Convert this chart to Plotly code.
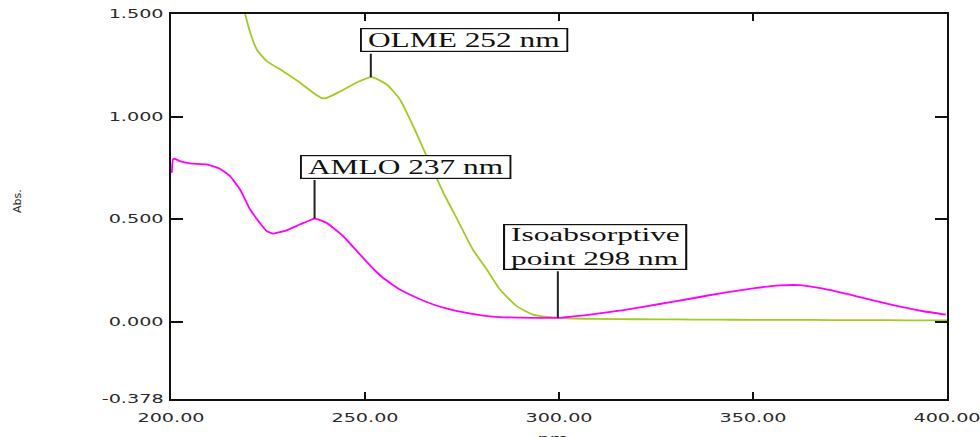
import plotly.graph_objects as go

# ---------------- data ----------------
olme_nm = [219.1, 220.4, 222.1, 224.7, 228.9, 233.2, 239.2, 243.6, 247.9, 251.7,
           255.6, 259.0, 262.5, 265.9, 270.2, 274.0, 277.8, 281.4, 284.8, 289.1,
           293.3, 297.7, 302.0, 310.0, 320.0, 330.0, 340.0, 350.0, 360.0, 370.0,
           380.0, 390.0, 400.0]
olme_abs = [1.500, 1.410, 1.327, 1.270, 1.221, 1.166, 1.088, 1.122, 1.166, 1.192,
            1.156, 1.083, 0.950, 0.806, 0.628, 0.490, 0.351, 0.254, 0.156, 0.075,
            0.034, 0.021, 0.016, 0.013, 0.011, 0.010, 0.009, 0.008, 0.008, 0.007,
            0.007, 0.006, 0.006]

amlo_nm = [200.2, 200.5, 201.0, 202.3, 204.9, 209.2, 212.6, 215.2, 217.8, 220.4,
           222.9, 224.7, 226.4, 229.8, 233.2, 237.1, 240.1, 244.4, 248.3, 250.4,
           252.5, 254.7, 257.0, 259.0, 263.3, 267.6, 271.9, 276.2, 280.5, 284.8,
           293.3, 299.4, 308.0, 316.6, 325.2, 333.8, 342.3, 350.9, 357.0, 362.1,
           368.1, 376.7, 385.3, 393.9, 399.7]
amlo_abs = [0.725, 0.790, 0.794, 0.782, 0.771, 0.766, 0.745, 0.709, 0.644, 0.546,
            0.481, 0.440, 0.429, 0.445, 0.473, 0.502, 0.481, 0.416, 0.335, 0.292,
            0.250, 0.212, 0.181, 0.156, 0.116, 0.083, 0.059, 0.042, 0.029, 0.021,
            0.018, 0.018, 0.034, 0.055, 0.083, 0.111, 0.140, 0.164, 0.176, 0.177,
            0.160, 0.123, 0.083, 0.050, 0.034]

# labelled points (position of the pointer lines) and their texts
label_texts = ["OLME 252 nm", "AMLO 237 nm", "Isoabsorptive<br>point 298 nm"]
label_nm = [251.5, 237.0, 299.7]
label_abs = [1.192, 0.502, 0.018]

x_tickvals = [200, 250, 300, 350, 400]
x_ticktext = ["200.00", "250.00", "300.00", "350.00", "400.00"]
y_tickvals = [-0.378, 0.0, 0.5, 1.0, 1.5]
y_ticktext = ["-0.378", "0.000", "0.500", "1.000", "1.500"]

# ---------------- styling ----------------
GREEN = "#A2CB24"
PINK = "#FF00FF"
box_dx = [-11, -15, -55]      # box left edge relative to pointer, px
box_dy = [25, 40, 48]         # box bottom above the point, px
box_size = [20, 20, 18]
box_stretch = [1.57, 1.57, 1.74]   # the reference picture is horizontally stretched
BOX_HPAD = 6                       # extra horizontal padding inside the boxes, px
TICK_STRETCH = 1.6

fig = go.Figure()
fig.add_trace(go.Scatter(x=olme_nm, y=olme_abs, mode="lines",
                         line=dict(color=GREEN, width=1.8, shape="spline", smoothing=0.6),
                         showlegend=False, hoverinfo="skip"))
fig.add_trace(go.Scatter(x=amlo_nm, y=amlo_abs, mode="lines",
                         line=dict(color=PINK, width=1.8, shape="spline", smoothing=0.4),
                         showlegend=False, hoverinfo="skip"))

annotations = []
for txt, xv, yv, dx, dy, fs in zip(label_texts, label_nm, label_abs, box_dx, box_dy, box_size):
    annotations.append(dict(x=xv, y=yv, xref="x", yref="y", text="", showarrow=True,
                            arrowhead=0, arrowwidth=2, arrowcolor="#222222",
                            ax=0, ay=-dy, standoff=0, startstandoff=0))
    annotations.append(dict(x=xv, y=yv, xref="x", yref="y", text=txt, showarrow=False,
                            xanchor="left", yanchor="bottom", xshift=dx, yshift=dy,
                            align="left", bordercolor="#111111", borderwidth=1.2,
                            borderpad=0, bgcolor="white",
                            font=dict(family="Liberation Serif", size=fs, color="#111111")))

annotations.append(dict(text="Abs.", xref="paper", yref="paper", x=0, y=0.5,
                        xshift=-162, yshift=5, textangle=-90, showarrow=False,
                        font=dict(family="DejaVu Sans", size=11, color="#222222")))
annotations.append(dict(text="nm", xref="paper", yref="paper", x=0.5, y=0,
                        xshift=-7, yshift=-31, yanchor="top", showarrow=False,
                        font=dict(family="DejaVu Sans", size=12, color="#222222")))

axis_common = dict(showgrid=False, zeroline=False, showline=True, linecolor="#111111",
                   linewidth=2, mirror="ticks", ticks="inside", tickcolor="#111111",
                   tickwidth=1.5, automargin=False,
                   tickfont=dict(family="DejaVu Sans", size=12, color="#2a2a2a"))

fig.update_layout(
    width=980, height=437,
    margin=dict(l=171, r=33, t=14, b=38, pad=0, autoexpand=False),
    paper_bgcolor="white", plot_bgcolor="white",
    xaxis=dict(range=[200, 400], tickvals=x_tickvals, ticktext=x_ticktext,
               ticklen=7, ticklabelstandoff=7, **axis_common),
    yaxis=dict(range=[-0.378, 1.5], tickvals=y_tickvals, ticktext=y_ticktext,
               ticklen=12, ticklabelstandoff=3, **axis_common),
    annotations=annotations,
)

post = """
var gd = document.getElementById('{plot_id}');
var S = {1: %s, 3: %s, 5: %s}, T = %s, P = %s;
gd.querySelectorAll('g.annotation').forEach(function(a){
  var idx = +a.getAttribute('data-index');
  var inner = a.querySelector('g.annotation-text-g > g');
  if (!inner) return;
  var tr = inner.getAttribute('transform') || '';
  if (S[idx]) {
    var s = S[idx], p = P / s;
    var r = inner.querySelector('rect.bg');
    if (r) { r.setAttribute('width', parseFloat(r.getAttribute('width')) + 2 * p); }
    var t = inner.querySelector('text');
    if (t) { t.setAttribute('transform', 'translate(' + p + ',0)'); }
    inner.setAttribute('transform', tr + ' scale(' + s + ',1)');
  } else if (idx === 7) {
    var w = inner.getBBox().width;
    inner.setAttribute('transform', tr + ' translate(' + (w/2) + ',0) scale(' + T + ',1) translate(' + (-w/2) + ',0)');
  }
});
gd.querySelectorAll('g.xtick text, g.ytick text').forEach(function(t){
  var x = parseFloat(t.getAttribute('x')) || 0;
  var tr = t.getAttribute('transform') || '';
  t.setAttribute('transform', tr + ' translate(' + x + ',0) scale(' + T + ',1) translate(' + (-x) + ',0)');
});
""" % (box_stretch[0], box_stretch[1], box_stretch[2], TICK_STRETCH, BOX_HPAD)

fig.write_html("out.html", config={"displayModeBar": False}, post_script=post)
